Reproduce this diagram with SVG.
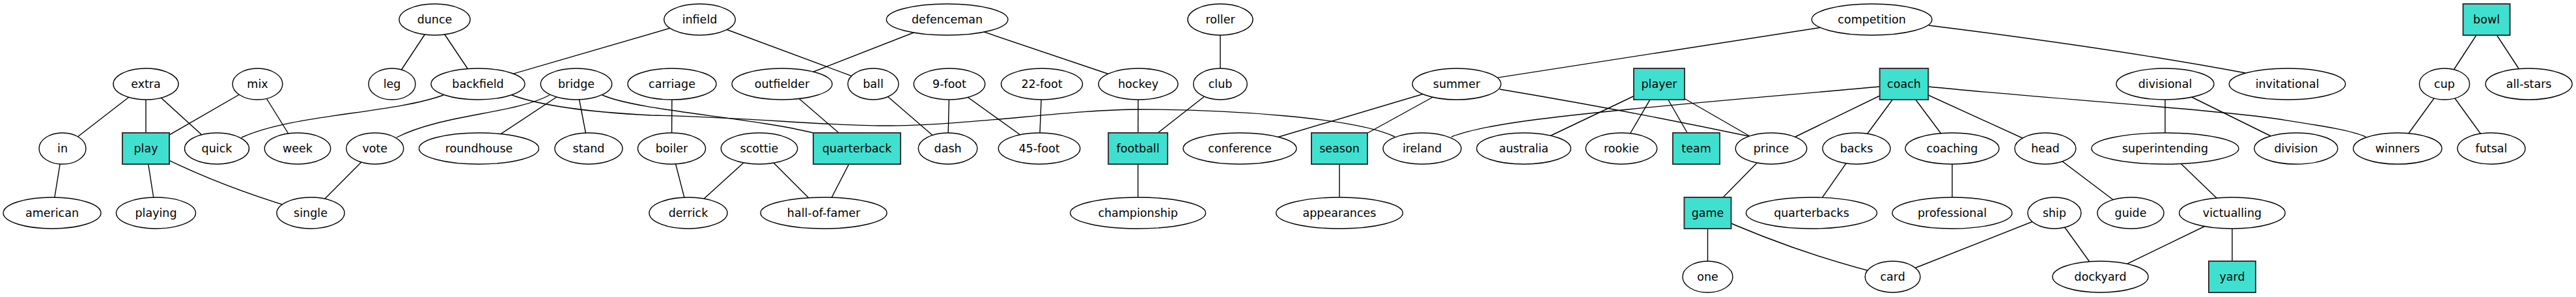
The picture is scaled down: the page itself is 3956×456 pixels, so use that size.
<svg xmlns="http://www.w3.org/2000/svg" width="3956" height="456" viewBox="0 0 3956 456">
<style>
.e{stroke:#000;stroke-width:1.4;fill:none}
ellipse{fill:#fff;stroke:#000;stroke-width:1.4}
rect{fill:#40E0D0;stroke:#333;stroke-width:2}
text{font-family:"DejaVu Sans",sans-serif;font-size:17.5px;text-anchor:middle;fill:#000}
</style>
<rect x="0" y="0" width="3956" height="456" style="fill:#fff;stroke:none"/>
<g id="edges" class="e">
<line x1="224" y1="129" x2="96" y2="228"/>
<line x1="224" y1="129" x2="224" y2="228"/>
<line x1="224" y1="129" x2="333" y2="228"/>
<line x1="395.5" y1="129" x2="224" y2="228"/>
<line x1="395.5" y1="129" x2="457" y2="228"/>
<line x1="667.5" y1="30" x2="602" y2="129"/>
<line x1="667.5" y1="30" x2="734" y2="129"/>
<line x1="96" y1="228" x2="80" y2="327"/>
<line x1="224" y1="228" x2="239.5" y2="327"/>
<path d="M224,228 Q330,285 477,327"/>
<line x1="575.8" y1="228" x2="477" y2="327"/>
<line x1="1074.5" y1="30" x2="734" y2="129"/>
<line x1="1074.5" y1="30" x2="1341" y2="129"/>
<line x1="885" y1="129" x2="735.5" y2="228"/>
<line x1="885" y1="129" x2="904" y2="228"/>
<line x1="1032" y1="129" x2="1031.5" y2="228"/>
<line x1="1454.6" y1="30" x2="1201" y2="129"/>
<line x1="1454.6" y1="30" x2="1748" y2="129"/>
<line x1="1201" y1="129" x2="1316" y2="228"/>
<line x1="1031.5" y1="228" x2="1057" y2="327"/>
<line x1="1166" y1="228" x2="1057" y2="327"/>
<line x1="1166" y1="228" x2="1265" y2="327"/>
<line x1="1316" y1="228" x2="1265" y2="327"/>
<line x1="1341" y1="129" x2="1455.6" y2="228"/>
<line x1="1458" y1="129" x2="1455.6" y2="228"/>
<line x1="1458" y1="129" x2="1596" y2="228"/>
<line x1="1600" y1="129" x2="1596" y2="228"/>
<line x1="1748" y1="129" x2="1747.6" y2="228"/>
<line x1="1874" y1="30" x2="1874" y2="129"/>
<line x1="1874" y1="129" x2="1747.6" y2="228"/>
<line x1="1747.6" y1="228" x2="1747.6" y2="327"/>
<line x1="1904" y1="228" x2="2237" y2="129"/>
<line x1="2237" y1="129" x2="2057" y2="228"/>
<line x1="2237" y1="129" x2="2874.6" y2="30"/>
<path d="M2303,137 Q2500,170 2685,209"/>
<line x1="2057" y1="228" x2="2057" y2="327"/>
<line x1="2548" y1="129" x2="2340" y2="228"/>
<line x1="2548" y1="129" x2="2490" y2="228"/>
<line x1="2548" y1="129" x2="2605" y2="228"/>
<line x1="2548" y1="129" x2="2720" y2="228"/>
<line x1="2622.5" y1="327" x2="2622.5" y2="425"/>
<line x1="2720" y1="228" x2="2622.5" y2="327"/>
<line x1="2924" y1="129" x2="2720" y2="228"/>
<line x1="2924" y1="129" x2="2851" y2="228"/>
<line x1="2924" y1="129" x2="2998" y2="228"/>
<line x1="2924" y1="129" x2="3141" y2="228"/>
<line x1="2851" y1="228" x2="2782" y2="327"/>
<line x1="2998" y1="228" x2="2998" y2="327"/>
<line x1="3141" y1="228" x2="3272" y2="327"/>
<path d="M2622.5,327 Q2760,390 2906.6,425"/>
<line x1="3155" y1="327" x2="2906.6" y2="425"/>
<line x1="3155" y1="327" x2="3225.6" y2="425"/>
<path d="M2962,39 Q3250,75 3448,112"/>
<line x1="3428" y1="327" x2="3225.6" y2="425"/>
<line x1="3325" y1="129" x2="3325" y2="228"/>
<line x1="3325" y1="129" x2="3526" y2="228"/>
<line x1="3325" y1="228" x2="3428" y2="327"/>
<line x1="3428" y1="327" x2="3428" y2="425"/>
<line x1="3818.6" y1="30" x2="3754" y2="129"/>
<line x1="3818.6" y1="30" x2="3883.6" y2="129"/>
<line x1="3754" y1="129" x2="3682" y2="228"/>
<line x1="3754" y1="129" x2="3826" y2="228"/>
<path d="M681,146 C600,175 450,175 371,211"/>
<path d="M844,146 C790,175 680,175 609,211"/>
<path d="M925,146 C980,170 1150,180 1249,204"/>
<path d="M786,146 C830,162 900,172 1000,177 C1150,180 1250,192 1350,193 C1480,194 1640,168 1750,168 C1880,168 2080,180 2142,210"/>
<path d="M2229,210 C2280,190 2400,178 2500,168 C2650,153 2780,143 2887,133"/>
<path d="M2961,133 C3150,152 3400,168 3500,183 C3570,194 3610,200 3633,210"/>
</g>
<g id="n-dunce"><ellipse cx="667.5" cy="30" rx="54.5" ry="24"/><text x="667.5" y="36">dunce</text></g>
<g id="n-infield"><ellipse cx="1074.5" cy="30" rx="54.7" ry="24"/><text x="1074.5" y="36">infield</text></g>
<g id="n-defenceman"><ellipse cx="1454.6" cy="30" rx="93.3" ry="24"/><text x="1454.6" y="36">defenceman</text></g>
<g id="n-roller"><ellipse cx="1874" cy="30" rx="50" ry="24"/><text x="1874" y="36">roller</text></g>
<g id="n-competition"><ellipse cx="2874.6" cy="30" rx="92.4" ry="24"/><text x="2874.6" y="36">competition</text></g>
<g id="n-bowl"><rect x="3782.6" y="6" width="72" height="48"/><text x="3818.6" y="36">bowl</text></g>
<g id="n-extra"><ellipse cx="224" cy="129" rx="50" ry="24"/><text x="224" y="135">extra</text></g>
<g id="n-mix"><ellipse cx="395.5" cy="129" rx="38.4" ry="24"/><text x="395.5" y="135">mix</text></g>
<g id="n-leg"><ellipse cx="602" cy="129" rx="36" ry="24"/><text x="602" y="135">leg</text></g>
<g id="n-backfield"><ellipse cx="734" cy="129" rx="72" ry="24"/><text x="734" y="135">backfield</text></g>
<g id="n-bridge"><ellipse cx="885" cy="129" rx="54.7" ry="24"/><text x="885" y="135">bridge</text></g>
<g id="n-carriage"><ellipse cx="1032" cy="129" rx="68" ry="24"/><text x="1032" y="135">carriage</text></g>
<g id="n-outfielder"><ellipse cx="1201" cy="129" rx="77" ry="24"/><text x="1201" y="135">outfielder</text></g>
<g id="n-ball"><ellipse cx="1341" cy="129" rx="39" ry="24"/><text x="1341" y="135">ball</text></g>
<g id="n-9-foot"><ellipse cx="1458" cy="129" rx="54.7" ry="24"/><text x="1458" y="135">9-foot</text></g>
<g id="n-22-foot"><ellipse cx="1600" cy="129" rx="62.5" ry="24"/><text x="1600" y="135">22-foot</text></g>
<g id="n-hockey"><ellipse cx="1748" cy="129" rx="61" ry="24"/><text x="1748" y="135">hockey</text></g>
<g id="n-club"><ellipse cx="1874" cy="129" rx="41.3" ry="24"/><text x="1874" y="135">club</text></g>
<g id="n-summer"><ellipse cx="2237" cy="129" rx="68" ry="24"/><text x="2237" y="135">summer</text></g>
<g id="n-player"><rect x="2509" y="105" width="78" height="48"/><text x="2548" y="135">player</text></g>
<g id="n-coach"><rect x="2886.7" y="105" width="74.6" height="48"/><text x="2924" y="135">coach</text></g>
<g id="n-divisional"><ellipse cx="3325" cy="129" rx="75" ry="24"/><text x="3325" y="135">divisional</text></g>
<g id="n-invitational"><ellipse cx="3512.6" cy="129" rx="89.3" ry="24"/><text x="3512.6" y="135">invitational</text></g>
<g id="n-cup"><ellipse cx="3754" cy="129" rx="38.6" ry="24"/><text x="3754" y="135">cup</text></g>
<g id="n-all-stars"><ellipse cx="3883.6" cy="129" rx="66.5" ry="24"/><text x="3883.6" y="135">all-stars</text></g>
<g id="n-in"><ellipse cx="96" cy="228" rx="36" ry="24"/><text x="96" y="234">in</text></g>
<g id="n-play"><rect x="188" y="204" width="72" height="48"/><text x="224" y="234">play</text></g>
<g id="n-quick"><ellipse cx="333" cy="228" rx="49.5" ry="24"/><text x="333" y="234">quick</text></g>
<g id="n-week"><ellipse cx="457" cy="228" rx="50.7" ry="24"/><text x="457" y="234">week</text></g>
<g id="n-vote"><ellipse cx="575.8" cy="228" rx="44" ry="24"/><text x="575.8" y="234">vote</text></g>
<g id="n-roundhouse"><ellipse cx="735.5" cy="228" rx="92" ry="24"/><text x="735.5" y="234">roundhouse</text></g>
<g id="n-stand"><ellipse cx="904" cy="228" rx="52" ry="24"/><text x="904" y="234">stand</text></g>
<g id="n-boiler"><ellipse cx="1031.5" cy="228" rx="52" ry="24"/><text x="1031.5" y="234">boiler</text></g>
<g id="n-scottie"><ellipse cx="1166" cy="228" rx="58.7" ry="24"/><text x="1166" y="234">scottie</text></g>
<g id="n-quarterback"><rect x="1249" y="204" width="134" height="48"/><text x="1316" y="234">quarterback</text></g>
<g id="n-dash"><ellipse cx="1455.6" cy="228" rx="45.3" ry="24"/><text x="1455.6" y="234">dash</text></g>
<g id="n-45-foot"><ellipse cx="1596" cy="228" rx="62.7" ry="24"/><text x="1596" y="234">45-foot</text></g>
<g id="n-football"><rect x="1702.1" y="204" width="91" height="48"/><text x="1747.6" y="234">football</text></g>
<g id="n-conference"><ellipse cx="1904" cy="228" rx="87" ry="24"/><text x="1904" y="234">conference</text></g>
<g id="n-season"><rect x="2014" y="204" width="86" height="48"/><text x="2057" y="234">season</text></g>
<g id="n-ireland"><ellipse cx="2184" cy="228" rx="60" ry="24"/><text x="2184" y="234">ireland</text></g>
<g id="n-australia"><ellipse cx="2340" cy="228" rx="72.3" ry="24"/><text x="2340" y="234">australia</text></g>
<g id="n-rookie"><ellipse cx="2490" cy="228" rx="54.7" ry="24"/><text x="2490" y="234">rookie</text></g>
<g id="n-team"><rect x="2569" y="204" width="72" height="48"/><text x="2605" y="234">team</text></g>
<g id="n-prince"><ellipse cx="2720" cy="228" rx="54.7" ry="24"/><text x="2720" y="234">prince</text></g>
<g id="n-backs"><ellipse cx="2851" cy="228" rx="52" ry="24"/><text x="2851" y="234">backs</text></g>
<g id="n-coaching"><ellipse cx="2998" cy="228" rx="72" ry="24"/><text x="2998" y="234">coaching</text></g>
<g id="n-head"><ellipse cx="3141" cy="228" rx="47" ry="24"/><text x="3141" y="234">head</text></g>
<g id="n-superintending"><ellipse cx="3325" cy="228" rx="113" ry="24"/><text x="3325" y="234">superintending</text></g>
<g id="n-division"><ellipse cx="3526" cy="228" rx="64" ry="24"/><text x="3526" y="234">division</text></g>
<g id="n-winners"><ellipse cx="3682" cy="228" rx="68" ry="24"/><text x="3682" y="234">winners</text></g>
<g id="n-futsal"><ellipse cx="3826" cy="228" rx="52" ry="24"/><text x="3826" y="234">futsal</text></g>
<g id="n-american"><ellipse cx="80" cy="327" rx="75" ry="24"/><text x="80" y="333">american</text></g>
<g id="n-playing"><ellipse cx="239.5" cy="327" rx="61" ry="24"/><text x="239.5" y="333">playing</text></g>
<g id="n-single"><ellipse cx="477" cy="327" rx="52" ry="24"/><text x="477" y="333">single</text></g>
<g id="n-derrick"><ellipse cx="1057" cy="327" rx="60" ry="24"/><text x="1057" y="333">derrick</text></g>
<g id="n-hall-of-famer"><ellipse cx="1265" cy="327" rx="97" ry="24"/><text x="1265" y="333">hall-of-famer</text></g>
<g id="n-championship"><ellipse cx="1747.6" cy="327" rx="104" ry="24"/><text x="1747.6" y="333">championship</text></g>
<g id="n-appearances"><ellipse cx="2057" cy="327" rx="97.3" ry="24"/><text x="2057" y="333">appearances</text></g>
<g id="n-game"><rect x="2586.5" y="303" width="72" height="48"/><text x="2622.5" y="333">game</text></g>
<g id="n-quarterbacks"><ellipse cx="2782" cy="327" rx="100.5" ry="24"/><text x="2782" y="333">quarterbacks</text></g>
<g id="n-professional"><ellipse cx="2998" cy="327" rx="92" ry="24"/><text x="2998" y="333">professional</text></g>
<g id="n-ship"><ellipse cx="3155" cy="327" rx="41" ry="24"/><text x="3155" y="333">ship</text></g>
<g id="n-guide"><ellipse cx="3272" cy="327" rx="51" ry="24"/><text x="3272" y="333">guide</text></g>
<g id="n-victualling"><ellipse cx="3428" cy="327" rx="81.3" ry="24"/><text x="3428" y="333">victualling</text></g>
<g id="n-one"><ellipse cx="2622.5" cy="425" rx="38.5" ry="24"/><text x="2622.5" y="431">one</text></g>
<g id="n-card"><ellipse cx="2906.6" cy="425" rx="42.4" ry="24"/><text x="2906.6" y="431">card</text></g>
<g id="n-dockyard"><ellipse cx="3225.6" cy="425" rx="73.5" ry="24"/><text x="3225.6" y="431">dockyard</text></g>
<g id="n-yard"><rect x="3392" y="401" width="72" height="48"/><text x="3428" y="431">yard</text></g>
</svg>
